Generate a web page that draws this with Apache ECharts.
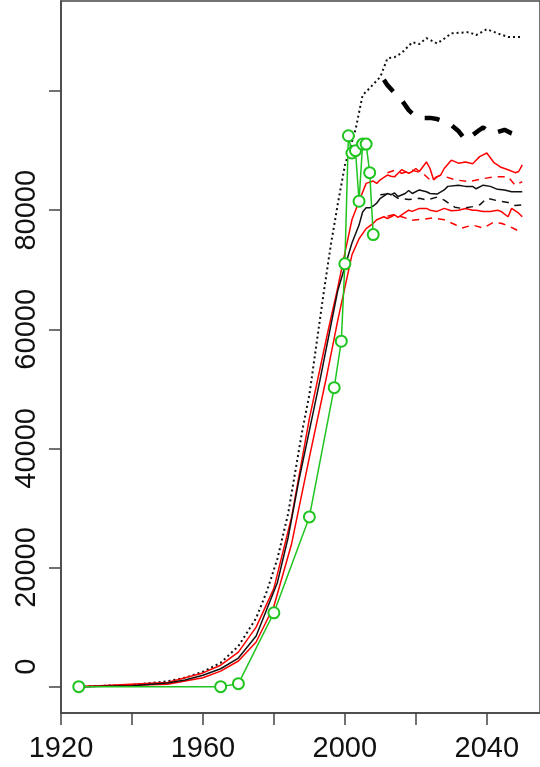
<!DOCTYPE html>
<html>
<head>
<meta charset="utf-8">
<script src="https://cdn.jsdelivr.net/npm/echarts@6/dist/echarts.min.js"></script>
<style>
html,body{margin:0;padding:0;background:#fff;}
#chart{width:540px;height:767px;}
</style>
</head>
<body>
<div id="chart"></div>
<script>
// ---- data ----
const xTicks = [1920, 1940, 1960, 1980, 2000, 2020, 2040];
const xLabels = [1920, 1960, 2000, 2040];
const yTicks = [0, 20000, 40000, 60000, 80000, 100000];
const yLabels = [0, 20000, 40000, 60000, 80000];

const dottedYears = [1925,1940,1950,1955,1960,1965,1970,1975,1978,1981,1984,1986,1988,1990,1992,1994,1996,1998,2000,2003,2005,2007,2010,2012,2014,2016,2019,2021,2023,2026,2028,2030,2035,2037,2040,2043,2046,2050];
const dottedVals  = [0,300,900,1500,2500,4000,6800,11500,16000,21500,29000,36000,43000,49000,57500,66000,74000,81000,87500,93500,99300,100500,102400,105500,105700,106400,108200,107900,108900,108000,108800,109700,109900,109400,110400,109700,109100,109100];

const centralYears = [1925,1940,1950,1955,1960,1965,1970,1975,1978,1981,1984,1987,1990,1993,1996,1998,2000,2002,2004,2005,2006,2007,2008,2009,2010,2012,2013,2014,2015,2017,2018,2019,2021,2023,2024,2026,2028,2029,2032,2034,2036,2037,2039,2041,2043,2045,2047,2050];
const centralVals  = [0,150,600,1100,1900,3000,4800,8500,13000,17500,25000,34500,43000,51500,60500,66500,70500,74500,77500,79700,80400,80400,80700,81200,82000,82800,82600,82900,82300,82800,83300,82800,83400,83100,82800,82700,83400,84000,84200,84000,84000,83600,84200,84000,83500,83400,83100,83100];

const upperYears = [1925,1950,1960,1965,1970,1975,1980,1985,1990,1995,1998,2000,2002,2004,2006,2008,2009,2010,2011,2012,2013,2014,2015,2016,2018,2019,2020,2021,2022,2023,2024,2025,2026,2027,2028,2030,2032,2034,2036,2037,2038,2040,2041,2042,2043,2044,2045,2046,2048,2049,2050];
const upperVals  = [0,700,2300,3600,5800,10000,16500,28500,45000,59000,67000,72800,78400,81500,84500,84900,84500,85100,85500,85900,85700,85600,86200,86800,86200,86500,87000,86500,87300,88100,87000,85100,85600,85900,87000,88400,87900,88100,87800,88400,89000,89600,88800,88000,87600,87200,87000,86800,86300,86500,87600];

const lowerYears = [1925,1950,1960,1965,1970,1975,1980,1985,1990,1995,1998,2000,2002,2004,2006,2008,2009,2011,2012,2014,2015,2016,2018,2019,2021,2023,2024,2026,2028,2030,2032,2034,2036,2037,2039,2041,2043,2044,2046,2047,2049,2050];
const lowerVals  = [0,400,1500,2600,4300,7500,13500,24000,38500,52500,61500,67000,72500,75200,76900,77800,78400,78900,78600,79200,78800,79200,80000,79800,80300,80300,80000,79800,80300,79900,80000,80300,80000,80000,79800,79800,80000,79800,78900,80300,79500,78900];

const upperDashYears = [2012,2014,2016,2019,2022,2024,2027,2031,2035,2039,2042,2046,2048,2050];
const upperDashVals  = [86300,86700,86200,86700,86200,85100,85900,85100,84800,85300,85600,85600,84200,84800];

const lowerDashYears = [2012,2014,2016,2019,2022,2025,2028,2031,2033,2036,2039,2042,2044,2046,2048,2050];
const lowerDashVals  = [79000,79300,78900,78300,78500,78700,78400,77600,77000,77500,77000,78000,77800,77400,76800,76200];

const blackDashYears = [2010,2013,2015,2018,2021,2023,2026,2028,2031,2033,2036,2038,2040,2043,2046,2048,2050];
const blackDashVals  = [82600,82800,82000,81800,82000,81700,82200,81700,80500,80300,80600,80900,82000,81600,81300,80800,80900];

const thickYears = [2011,2012,2014,2016,2018,2020,2022,2024,2026,2028,2030,2032,2034,2036,2038,2039,2041,2043,2045,2047,2050];
const thickVals  = [101900,101000,99700,98500,96800,95700,95500,95500,95300,94900,94300,93300,91800,92600,93500,93900,93000,93100,93500,92900,92300];

const obsYears = [1925,1965,1970,1980,1990,1997,1999,2000,2001,2002,2003,2004,2005,2006,2007,2008];
const obsVals  = [0,0,500,12400,28500,50200,58000,71000,92500,89600,90000,81500,91100,91100,86300,75900];

// ---- chart ----
const zip = (xs, ys) => xs.map((x, i) => [x, ys[i]]);
const chart = echarts.init(document.getElementById('chart'), null, {renderer: 'canvas'});
const FONT = '"Liberation Sans", Arial, sans-serif';
const AX = '#444';

function line(name, xs, ys, color, width, type, z) {
  return {
    name, type: 'line', data: zip(xs, ys), showSymbol: false, symbol: 'none',
    lineStyle: {color, width, type}, z: z || 2, silent: true
  };
}

chart.setOption({
  animation: false,
  backgroundColor: '#fff',
  grid: {left: 61, top: 1, right: -5, bottom: 54, show: true, borderColor: AX, borderWidth: 1.5, backgroundColor: 'transparent'},
  xAxis: {
    type: 'value', min: 1920, max: 2055,
    axisLine: {show: true, onZero: false, lineStyle: {color: AX, width: 1.5}},
    axisTick: {show: true, length: 12, customValues: xTicks, lineStyle: {color: AX, width: 1.5}},
    axisLabel: {customValues: xLabels, margin: 21, fontSize: 29, fontFamily: FONT, color: '#111',
      formatter: v => String(v)},
    splitLine: {show: false}
  },
  yAxis: {
    type: 'value', min: -4428, max: 115128,
    axisLine: {show: true, onZero: false, lineStyle: {color: AX, width: 1.5}},
    axisTick: {show: true, length: 12, customValues: yTicks, lineStyle: {color: AX, width: 1.5}},
    axisLabel: {customValues: yLabels, rotate: 90, margin: 20, fontSize: 29, fontFamily: FONT, color: '#111',
      formatter: v => v === 0 ? '{z|0}' : String(v),
      rich: {z: {fontSize: 29, fontFamily: FONT, color: '#111', padding: [0, 0, 0, 40]}}},
    splitLine: {show: false}
  },
  series: [
    line('dotted', dottedYears, dottedVals, '#111', 2, [2, 3], 2),
    line('upper', upperYears, upperVals, '#ff0000', 1.5, 'solid', 3),
    line('lower', lowerYears, lowerVals, '#ff0000', 1.5, 'solid', 3),
    line('upperDash', upperDashYears, upperDashVals, '#ff0000', 1.5, [7, 6], 3),
    line('lowerDash', lowerDashYears, lowerDashVals, '#ff0000', 1.5, [7, 6], 3),
    line('blackDash', blackDashYears, blackDashVals, '#111', 1.5, [7, 6], 4),
    line('central', centralYears, centralVals, '#111', 1.5, 'solid', 4),
    line('thick', thickYears, thickVals, '#000', 4.5, [15, 14], 4),
    {
      name: 'observed', type: 'line', data: zip(obsYears, obsVals), z: 5, silent: true,
      symbol: 'emptyCircle', symbolSize: 11, showSymbol: true,
      lineStyle: {color: '#1fc41f', width: 1.5},
      itemStyle: {color: '#1fc41f', borderColor: '#1fc41f', borderWidth: 1.5}
    }
  ]
});
</script>
</body>
</html>
